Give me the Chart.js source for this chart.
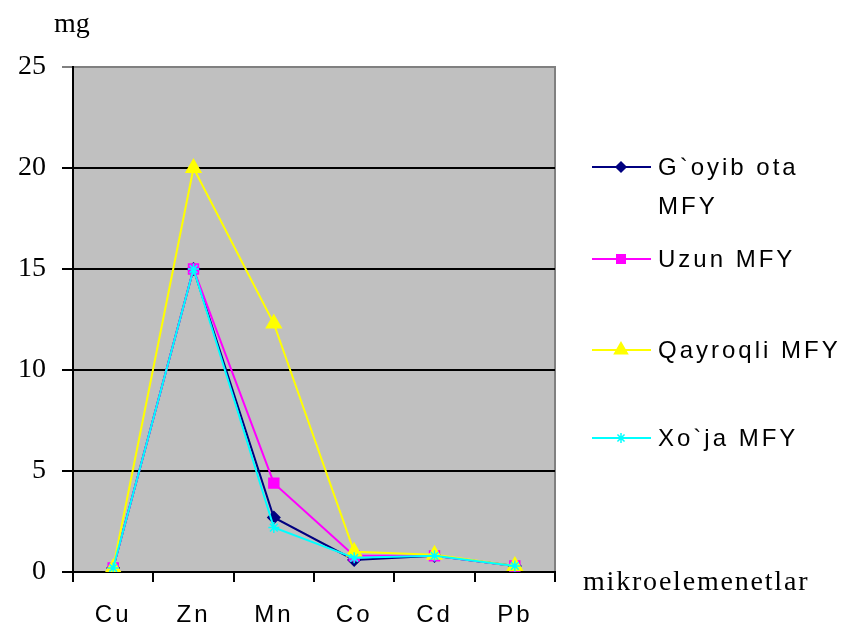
<!DOCTYPE html>
<html>
<head>
<meta charset="utf-8">
<script src="https://cdn.jsdelivr.net/npm/chart.js@4.4.1/dist/chart.umd.min.js"></script>
<style>
html,body{margin:0;padding:0;background:#fff;}
canvas{display:block;}
</style>
</head>
<body>
<canvas id="c" width="847" height="632"></canvas>
<script>
const categories = ['Cu', 'Zn', 'Mn', 'Co', 'Cd', 'Pb'];
const seriesNames = [['G`oyib ota', 'MFY'], ['Uzun MFY'], ['Qayroqli MFY'], ['Xo`ja MFY']];
const goyibOta = [0.2, 15, 2.7, 0.6, 0.8, 0.3];
const uzun     = [0.2, 15, 4.4, 0.8, 0.8, 0.3];
const qayroqli = [0.2, 20, 12.3, 1.0, 0.85, 0.3];
const xoja     = [0.2, 15, 2.2, 0.7, 0.8, 0.3];
const yTicks = [0, 5, 10, 15, 20, 25];
const yTitle = 'mg';
const xTitle = 'mikroelemenetlar';

const colors = ['#000080', '#ff00ff', '#ffff00', '#00ffff'];
const styles = ['rectRot', 'rect', 'triangle', 'star'];
const radii = [6, 7, 8.5, 5.5];
const legendRadii = [5, 6, 7.5, 5];
const legendRows = [167, 259, 350, 438];

const values = [goyibOta, uzun, qayroqli, xoja];

const bgPlugin = {
  id: 'bg',
  beforeDraw(chart) {
    const ctx = chart.ctx, a = chart.chartArea;
    ctx.save();
    ctx.fillStyle = '#fff';
    ctx.fillRect(0, 0, chart.width, chart.height);
    ctx.fillStyle = '#c0c0c0';
    ctx.fillRect(a.left, a.top, a.right - a.left, a.bottom - a.top);
    ctx.strokeStyle = '#808080';
    ctx.lineWidth = 2;
    ctx.beginPath();
    ctx.moveTo(a.left, a.top);
    ctx.lineTo(a.right, a.top);
    ctx.lineTo(a.right, a.bottom);
    ctx.stroke();
    ctx.restore();
    ctx.letterSpacing = '0px';
  },
  afterDatasetsDraw(chart) {
    chart.ctx.letterSpacing = '3px';
  },
  afterDraw(chart) {
    const ctx = chart.ctx;
    ctx.save();
    // legend
    ctx.letterSpacing = '3px';
    ctx.font = '24px "Liberation Sans", Arial, sans-serif';
    ctx.textBaseline = 'middle';
    ctx.textAlign = 'left';
    chart.data.datasets.forEach((ds, i) => {
      const y = legendRows[i];
      ctx.strokeStyle = ds.borderColor;
      ctx.lineWidth = 2;
      ctx.beginPath();
      ctx.moveTo(592, y);
      ctx.lineTo(651, y);
      ctx.stroke();
      ctx.fillStyle = ds.borderColor;
      ctx.strokeStyle = ds.borderColor;
      ctx.lineWidth = 1.5;
      Chart.helpers.drawPoint(ctx, {pointStyle: ds.pointStyle, radius: legendRadii[i], rotation: 0, borderWidth: 1.5}, 621, y);
      ctx.fillStyle = '#000';
      seriesNames[i].forEach((t, j) => ctx.fillText(t, 658, y + 1 + j * 39));
    });
    // axis titles
    ctx.letterSpacing = '0px';
    ctx.font = '28px "Liberation Serif", "Times New Roman", serif';
    ctx.textBaseline = 'alphabetic';
    ctx.fillText(yTitle, 54, 32);
    ctx.letterSpacing = '1.8px';
    ctx.fillText(xTitle, 583, 590);
    ctx.restore();
    ctx.letterSpacing = '0px';
  }
};

new Chart(document.getElementById('c'), {
  type: 'line',
  data: {
    labels: categories,
    datasets: values.map((v, i) => ({
      label: seriesNames[i].join(' '),
      data: v,
      borderColor: colors[i],
      backgroundColor: colors[i],
      pointStyle: styles[i],
      pointRadius: radii[i],
      pointBorderWidth: 1.5,
      borderWidth: 2,
      tension: 0,
      fill: false,
      order: 4 - i
    }))
  },
  options: {
    responsive: false,
    animation: false,
    devicePixelRatio: 1,
    layout: {padding: {top: 67, right: 292, left: 0, bottom: 0}},
    plugins: {legend: {display: false}, tooltip: {enabled: false}},
    scales: {
      x: {
        type: 'category',
        offset: true,
        grid: {offset: true, drawOnChartArea: false, tickLength: 10, color: '#000', lineWidth: 2},
        border: {color: '#000', width: 2},
        ticks: {
          z: 1,
          color: '#000',
          padding: 19,
          maxRotation: 0,
          autoSkip: false,
          font: {family: '"Liberation Sans", Arial, sans-serif', size: 24}
        },
        afterFit(s) { s.height = 60; }
      },
      y: {
        min: 0,
        max: 25,
        afterBuildTicks(s) { s.ticks = yTicks.map(v => ({value: v})); },
        grid: {
          tickLength: 11,
          lineWidth: 2,
          color: ctx => (ctx.tick && ctx.tick.value === 25) ? '#808080' : '#000'
        },
        border: {color: '#000', width: 2},
        ticks: {
          color: '#000',
          padding: 16,
          font: {family: '"Liberation Serif", "Times New Roman", serif', size: 28}
        },
        afterFit(s) { s.width = 73; }
      }
    }
  },
  plugins: [bgPlugin]
});
</script>
</body>
</html>
